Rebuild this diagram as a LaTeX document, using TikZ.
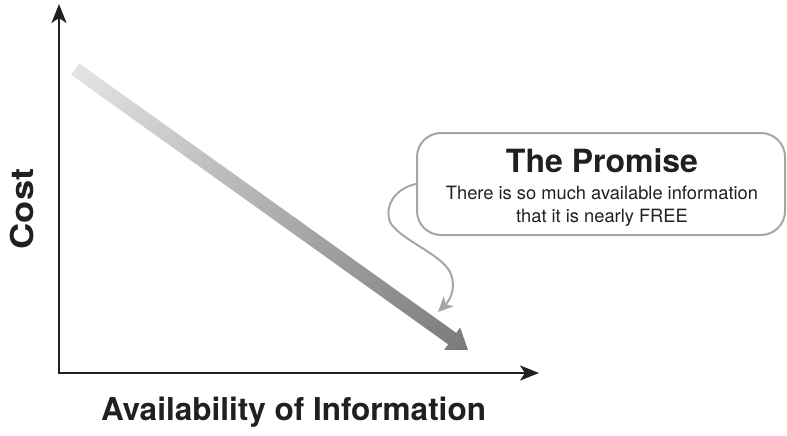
\documentclass[tikz,border=0pt]{standalone}
\usepackage{fontspec}
\setmainfont{TeX Gyre Heros}
\usetikzlibrary{arrows.meta,calc}
\definecolor{axisblack}{HTML}{231F20}
\definecolor{calloutgray}{HTML}{A6A6A6}
\definecolor{shadelight}{HTML}{E4E4E4}
\definecolor{shadedark}{HTML}{7A7A7A}
\tikzset{
  axis/.style={draw=axisblack, line width=2.4pt,
    -{Stealth[length=19pt,width=15pt,inset=5pt]}},
  axislabel/.style={font=\fontsize{31.5}{31.5}\selectfont\bfseries, text=axisblack, inner sep=0pt},
  calloutbox/.style={draw=calloutgray, line width=2pt, rounded corners=24pt,
    fill=white, minimum width=368pt, minimum height=102pt, inner sep=0pt},
  callouttext/.style={align=center, text=axisblack, inner sep=0pt,
    font=\fontsize{18.3}{23.5}\selectfont},
  callouttail/.style={draw=calloutgray, line width=2pt,
    -{Stealth[length=15pt,width=14pt,inset=4pt]}},
}
\begin{document}
\begin{tikzpicture}[x=1pt,y=-1pt]
\useasboundingbox (0,0) rectangle (787,436);

% axes
\coordinate (O) at (59,373);
\coordinate (ytip) at (59,4);
\coordinate (xtip) at (539,373);
\draw[axis] (O) -- (ytip);
\draw[axis] ([xshift=-1.2pt]O) -- (xtip);

% axis titles
\node[axislabel, anchor=base] (xlabel) at (293.5,420) {Availability of Information};
\node[axislabel, anchor=base, rotate=90] (ylabel) at (33,209) {\scalebox{1.15}[1]{Cost}};

% falling cost trend: arrow drawn along local x, shaded from light to dark
\begin{scope}[transform canvas={shift={(75,69)}, rotate=-35.56}]
  \shade[left color=shadelight, right color=shadedark]
    (0,-7) -- (463.7,-7) -- (463.7,-13.75) -- (483,0)
    -- (463.7,13.75) -- (463.7,7) -- (0,7) -- cycle;
\end{scope}

% callout
\node[calloutbox] (promise) at (601,184) {};
\node[callouttext] (promisetext) at (602,187.5)
  {{\fontsize{32}{32}\selectfont\bfseries The Promise}\\[3.5pt]
   There is so much available information\\
   that it is nearly FREE};
\coordinate (target) at (438,312);
\draw[callouttail] (promise.west)
  .. controls (396,188) and (384,205) .. (390,222)
  .. controls (400,240) and (440,253) .. (450,272)
  .. controls (456,285) and (452,298) .. (target);
\end{tikzpicture}
\end{document}
